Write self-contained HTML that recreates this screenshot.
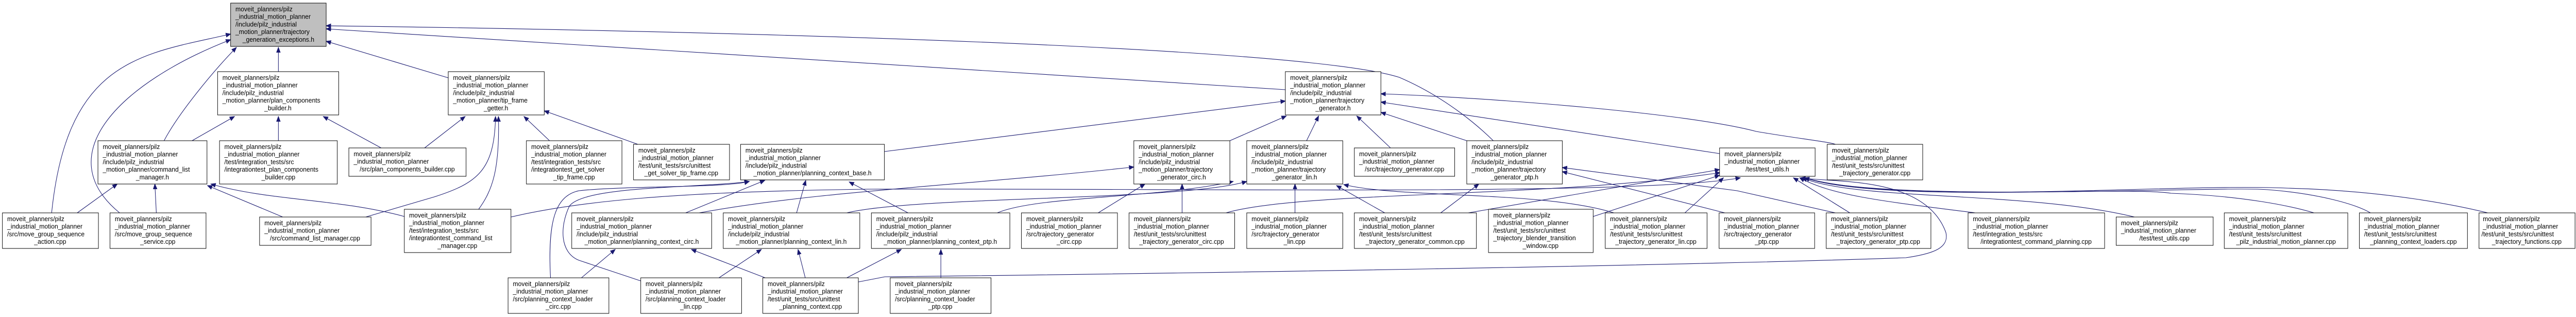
<!DOCTYPE html>
<html><head><meta charset="utf-8"><style>
html,body{margin:0;padding:0;background:#fff;width:100%;height:100%;overflow:hidden;}
svg{display:block;position:absolute;left:0;top:0;width:100vw;height:100vh;overflow:hidden;}
text{font-family:"Liberation Sans",sans-serif;font-size:13px;fill:#000;}
rect{fill:#fff;stroke:#000;stroke-width:1;}
.e{fill:none;stroke:#191970;stroke-width:1.1;marker-start:url(#a);}
</style></head><body>
<svg viewBox="0 0 5339 615" preserveAspectRatio="none" xmlns="http://www.w3.org/2000/svg">
<defs><marker id="a" markerUnits="userSpaceOnUse" markerWidth="12" markerHeight="10" refX="10" refY="4" orient="auto-start-reverse" viewBox="0 0 12 8"><path d="M0,0 L10,4 L0,8 z" fill="#191970" stroke="#191970"/></marker></defs>

<path class="e" d="M478,66 C300,105 140,110 107,413"/>
<path class="e" d="M478,77 C250,160 100,300 248,413"/>
<path class="e" d="M490,92 C440,140 370,220 340,273"/>
<path class="e" d="M577,92 L577,139"/>
<path class="e" d="M676,50 C1500,60 2700,90 2900,150 C3000,190 3070,250 3095,273"/>
<path class="e" d="M676,56 L2664,174"/>
<path class="e" d="M676,80 L929,151"/>
<path class="e" d="M486,226 L398,273"/>
<path class="e" d="M577,226 L577,273"/>
<path class="e" d="M670,226 L790,287"/>
<path class="e" d="M964,226 L880,287"/>
<path class="e" d="M1027,226 C1025,330 990,355 900,382 L758,421"/>
<path class="e" d="M1033,226 C1036,330 1020,370 992,406"/>
<path class="e" d="M1086,226 L1139,273"/>
<path class="e" d="M1128,215 L1322,280"/>
<path class="e" d="M243,357 L160,413"/>
<path class="e" d="M321,357 L324,413"/>
<path class="e" d="M430,360 L586,421"/>
<path class="e" d="M437,357 C560,390 700,385 838,420"/>
<path class="e" d="M2664,196 L1833,294"/>
<path class="e" d="M1585,350 L1421,413"/>
<path class="e" d="M1670,350 L1651,413"/>
<path class="e" d="M1760,353 L1882,413"/>
<path class="e" d="M1553,352 C1500,365 1300,360 1200,370 C1150,380 1135,430 1141,539"/>
<path class="e" d="M1553,352 C1450,365 1210,360 1180,400 C1160,440 1160,490 1200,505 L1328,545"/>
<path class="e" d="M1275,484 L1205,539"/>
<path class="e" d="M1433,484 L1586,539"/>
<path class="e" d="M1578,484 L1490,539"/>
<path class="e" d="M1654,484 L1669,539"/>
<path class="e" d="M1868,484 L1755,539"/>
<path class="e" d="M1950,484 L1950,539"/>
<path class="e" d="M2350,324 C2000,360 1700,370 1449,413"/>
<path class="e" d="M2373,357 L2276,413"/>
<path class="e" d="M2450,357 L2450,413"/>
<path class="e" d="M2556,352 C2400,385 2150,380 2067,413"/>
<path class="e" d="M2584,352 C2450,390 1900,380 1755,413"/>
<path class="e" d="M2684,357 L2684,413"/>
<path class="e" d="M2770,360 L2870,413"/>
<path class="e" d="M2785,358 C2900,385 3200,370 3345,413"/>
<path class="e" d="M2666,225 L2549,273"/>
<path class="e" d="M2733,225 L2708,273"/>
<path class="e" d="M2812,225 L2882,287"/>
<path class="e" d="M2862,218 L3040,273"/>
<path class="e" d="M2862,182 C3100,190 3500,220 3640,255 C3720,268 3790,275 3804,280"/>
<path class="e" d="M2862,198 L3564,298"/>
<path class="e" d="M3065,357 L2986,413"/>
<path class="e" d="M3238,325 L3600,370 L3804,413"/>
<path class="e" d="M3238,333 L3575,413"/>
<path class="e" d="M3564,329 L3043,413"/>
<path class="e" d="M3564,340 L3302,420"/>
<path class="e" d="M3572,345 L3492,413"/>
<path class="e" d="M3565,335 C3200,385 2700,370 2541,413"/>
<path class="e" d="M3607,345 C3400,380 2500,365 1800,367 C1400,372 1200,390 1059,421"/>
<path class="e" d="M3732,345 C3800,355 3990,340 4033,451 C4040,480 4010,492 3950,500 C3500,515 2500,530 1834,537 L1779,547"/>
<path class="e" d="M3717,345 L3834,413"/>
<path class="e" d="M3730,345 C3800,380 3900,390 4094,413"/>
<path class="e" d="M3735,345 C3850,390 4200,370 4424,421"/>
<path class="e" d="M3740,345 C3900,395 4400,360 4500,375 C4650,380 4750,400 4796,413"/>
<path class="e" d="M3740,345 C3900,395 4600,360 4700,368 C4800,375 4880,395 4913,413"/>
<path class="e" d="M3740,345 C3950,400 4500,355 4740,365 C4950,370 5100,400 5156,413"/>

<g transform="translate(478,6)"><rect width="198" height="84" style="fill:#bfbfbf"/><text x="10" y="16">moveit_planners/pilz</text><text x="10" y="30.7">_industrial_motion_planner</text><text x="10" y="45.4">/include/pilz_industrial</text><text x="10" y="60.1">_motion_planner/trajectory</text><text x="99" y="74.8" text-anchor="middle">_generation_exceptions.h</text></g>
<g transform="translate(451,139)"><rect width="251" height="84"/><text x="10" y="16">moveit_planners/pilz</text><text x="10" y="30.7">_industrial_motion_planner</text><text x="10" y="45.4">/include/pilz_industrial</text><text x="10" y="60.1">_motion_planner/plan_components</text><text x="125" y="74.8" text-anchor="middle">_builder.h</text></g>
<g transform="translate(203,273)"><rect width="226" height="84"/><text x="10" y="16">moveit_planners/pilz</text><text x="10" y="30.7">_industrial_motion_planner</text><text x="10" y="45.4">/include/pilz_industrial</text><text x="10" y="60.1">_motion_planner/command_list</text><text x="113" y="74.8" text-anchor="middle">_manager.h</text></g>
<g transform="translate(455,273)"><rect width="244" height="84"/><text x="10" y="16">moveit_planners/pilz</text><text x="10" y="30.7">_industrial_motion_planner</text><text x="10" y="45.4">/test/integration_tests/src</text><text x="10" y="60.1">/integrationtest_plan_components</text><text x="122" y="74.8" text-anchor="middle">_builder.cpp</text></g>
<g transform="translate(723,287)"><rect width="243" height="55"/><text x="10" y="16">moveit_planners/pilz</text><text x="10" y="30.7">_industrial_motion_planner</text><text x="121" y="45.4" text-anchor="middle">/src/plan_components_builder.cpp</text></g>
<g transform="translate(5,413)"><rect width="199" height="69"/><text x="10" y="16">moveit_planners/pilz</text><text x="10" y="30.7">_industrial_motion_planner</text><text x="10" y="45.4">/src/move_group_sequence</text><text x="99" y="60.1" text-anchor="middle">_action.cpp</text></g>
<g transform="translate(228,413)"><rect width="199" height="69"/><text x="10" y="16">moveit_planners/pilz</text><text x="10" y="30.7">_industrial_motion_planner</text><text x="10" y="45.4">/src/move_group_sequence</text><text x="99" y="60.1" text-anchor="middle">_service.cpp</text></g>
<g transform="translate(538,421)"><rect width="231" height="55"/><text x="10" y="16">moveit_planners/pilz</text><text x="10" y="30.7">_industrial_motion_planner</text><text x="115" y="45.4" text-anchor="middle">/src/command_list_manager.cpp</text></g>
<g transform="translate(838,406)"><rect width="221" height="84"/><text x="10" y="16">moveit_planners/pilz</text><text x="10" y="30.7">_industrial_motion_planner</text><text x="10" y="45.4">/test/integration_tests/src</text><text x="10" y="60.1">/integrationtest_command_list</text><text x="110" y="74.8" text-anchor="middle">_manager.cpp</text></g>
<g transform="translate(929,139)"><rect width="199" height="84"/><text x="10" y="16">moveit_planners/pilz</text><text x="10" y="30.7">_industrial_motion_planner</text><text x="10" y="45.4">/include/pilz_industrial</text><text x="10" y="60.1">_motion_planner/tip_frame</text><text x="99" y="74.8" text-anchor="middle">_getter.h</text></g>
<g transform="translate(1091,273)"><rect width="198" height="84"/><text x="10" y="16">moveit_planners/pilz</text><text x="10" y="30.7">_industrial_motion_planner</text><text x="10" y="45.4">/test/integration_tests/src</text><text x="10" y="60.1">/integrationtest_get_solver</text><text x="99" y="74.8" text-anchor="middle">_tip_frame.cpp</text></g>
<g transform="translate(1313,280)"><rect width="199" height="69"/><text x="10" y="16">moveit_planners/pilz</text><text x="10" y="30.7">_industrial_motion_planner</text><text x="10" y="45.4">/test/unit_tests/src/unittest</text><text x="99" y="60.1" text-anchor="middle">_get_solver_tip_frame.cpp</text></g>
<g transform="translate(1535,280)"><rect width="298" height="69"/><text x="10" y="16">moveit_planners/pilz</text><text x="10" y="30.7">_industrial_motion_planner</text><text x="10" y="45.4">/include/pilz_industrial</text><text x="149" y="60.1" text-anchor="middle">_motion_planner/planning_context_base.h</text></g>
<g transform="translate(1185,413)"><rect width="290" height="69"/><text x="10" y="16">moveit_planners/pilz</text><text x="10" y="30.7">_industrial_motion_planner</text><text x="10" y="45.4">/include/pilz_industrial</text><text x="145" y="60.1" text-anchor="middle">_motion_planner/planning_context_circ.h</text></g>
<g transform="translate(1499,413)"><rect width="283" height="69"/><text x="10" y="16">moveit_planners/pilz</text><text x="10" y="30.7">_industrial_motion_planner</text><text x="10" y="45.4">/include/pilz_industrial</text><text x="141" y="60.1" text-anchor="middle">_motion_planner/planning_context_lin.h</text></g>
<g transform="translate(1806,413)"><rect width="287" height="69"/><text x="10" y="16">moveit_planners/pilz</text><text x="10" y="30.7">_industrial_motion_planner</text><text x="10" y="45.4">/include/pilz_industrial</text><text x="143" y="60.1" text-anchor="middle">_motion_planner/planning_context_ptp.h</text></g>
<g transform="translate(1053,539)"><rect width="209" height="69"/><text x="10" y="16">moveit_planners/pilz</text><text x="10" y="30.7">_industrial_motion_planner</text><text x="10" y="45.4">/src/planning_context_loader</text><text x="104" y="60.1" text-anchor="middle">_circ.cpp</text></g>
<g transform="translate(1328,539)"><rect width="209" height="69"/><text x="10" y="16">moveit_planners/pilz</text><text x="10" y="30.7">_industrial_motion_planner</text><text x="10" y="45.4">/src/planning_context_loader</text><text x="104" y="60.1" text-anchor="middle">_lin.cpp</text></g>
<g transform="translate(1581,539)"><rect width="198" height="69"/><text x="10" y="16">moveit_planners/pilz</text><text x="10" y="30.7">_industrial_motion_planner</text><text x="10" y="45.4">/test/unit_tests/src/unittest</text><text x="99" y="60.1" text-anchor="middle">_planning_context.cpp</text></g>
<g transform="translate(1845,539)"><rect width="209" height="69"/><text x="10" y="16">moveit_planners/pilz</text><text x="10" y="30.7">_industrial_motion_planner</text><text x="10" y="45.4">/src/planning_context_loader</text><text x="104" y="60.1" text-anchor="middle">_ptp.cpp</text></g>
<g transform="translate(2117,413)"><rect width="199" height="69"/><text x="10" y="16">moveit_planners/pilz</text><text x="10" y="30.7">_industrial_motion_planner</text><text x="10" y="45.4">/src/trajectory_generator</text><text x="99" y="60.1" text-anchor="middle">_circ.cpp</text></g>
<g transform="translate(2340,413)"><rect width="219" height="69"/><text x="10" y="16">moveit_planners/pilz</text><text x="10" y="30.7">_industrial_motion_planner</text><text x="10" y="45.4">/test/unit_tests/src/unittest</text><text x="109" y="60.1" text-anchor="middle">_trajectory_generator_circ.cpp</text></g>
<g transform="translate(2584,413)"><rect width="199" height="69"/><text x="10" y="16">moveit_planners/pilz</text><text x="10" y="30.7">_industrial_motion_planner</text><text x="10" y="45.4">/src/trajectory_generator</text><text x="99" y="60.1" text-anchor="middle">_lin.cpp</text></g>
<g transform="translate(2350,273)"><rect width="199" height="84"/><text x="10" y="16">moveit_planners/pilz</text><text x="10" y="30.7">_industrial_motion_planner</text><text x="10" y="45.4">/include/pilz_industrial</text><text x="10" y="60.1">_motion_planner/trajectory</text><text x="99" y="74.8" text-anchor="middle">_generator_circ.h</text></g>
<g transform="translate(2584,273)"><rect width="199" height="84"/><text x="10" y="16">moveit_planners/pilz</text><text x="10" y="30.7">_industrial_motion_planner</text><text x="10" y="45.4">/include/pilz_industrial</text><text x="10" y="60.1">_motion_planner/trajectory</text><text x="99" y="74.8" text-anchor="middle">_generator_lin.h</text></g>
<g transform="translate(2664,139)"><rect width="198" height="84"/><text x="10" y="16">moveit_planners/pilz</text><text x="10" y="30.7">_industrial_motion_planner</text><text x="10" y="45.4">/include/pilz_industrial</text><text x="10" y="60.1">_motion_planner/trajectory</text><text x="99" y="74.8" text-anchor="middle">_generator.h</text></g>
<g transform="translate(2807,287)"><rect width="208" height="55"/><text x="10" y="16">moveit_planners/pilz</text><text x="10" y="30.7">_industrial_motion_planner</text><text x="104" y="45.4" text-anchor="middle">/src/trajectory_generator.cpp</text></g>
<g transform="translate(3040,273)"><rect width="198" height="84"/><text x="10" y="16">moveit_planners/pilz</text><text x="10" y="30.7">_industrial_motion_planner</text><text x="10" y="45.4">/include/pilz_industrial</text><text x="10" y="60.1">_motion_planner/trajectory</text><text x="99" y="74.8" text-anchor="middle">_generator_ptp.h</text></g>
<g transform="translate(3564,287)"><rect width="198" height="55"/><text x="10" y="16">moveit_planners/pilz</text><text x="10" y="30.7">_industrial_motion_planner</text><text x="99" y="45.4" text-anchor="middle">/test/test_utils.h</text></g>
<g transform="translate(2807,413)"><rect width="253" height="69"/><text x="10" y="16">moveit_planners/pilz</text><text x="10" y="30.7">_industrial_motion_planner</text><text x="10" y="45.4">/test/unit_tests/src/unittest</text><text x="126" y="60.1" text-anchor="middle">_trajectory_generator_common.cpp</text></g>
<g transform="translate(3085,406)"><rect width="217" height="84"/><text x="10" y="16">moveit_planners/pilz</text><text x="10" y="30.7">_industrial_motion_planner</text><text x="10" y="45.4">/test/unit_tests/src/unittest</text><text x="10" y="60.1">_trajectory_blender_transition</text><text x="108" y="74.8" text-anchor="middle">_window.cpp</text></g>
<g transform="translate(3327,413)"><rect width="211" height="69"/><text x="10" y="16">moveit_planners/pilz</text><text x="10" y="30.7">_industrial_motion_planner</text><text x="10" y="45.4">/test/unit_tests/src/unittest</text><text x="105" y="60.1" text-anchor="middle">_trajectory_generator_lin.cpp</text></g>
<g transform="translate(3563,413)"><rect width="198" height="69"/><text x="10" y="16">moveit_planners/pilz</text><text x="10" y="30.7">_industrial_motion_planner</text><text x="10" y="45.4">/src/trajectory_generator</text><text x="99" y="60.1" text-anchor="middle">_ptp.cpp</text></g>
<g transform="translate(3787,280)"><rect width="198" height="69"/><text x="10" y="16">moveit_planners/pilz</text><text x="10" y="30.7">_industrial_motion_planner</text><text x="10" y="45.4">/test/unit_tests/src/unittest</text><text x="99" y="60.1" text-anchor="middle">_trajectory_generator.cpp</text></g>
<g transform="translate(3785,413)"><rect width="217" height="69"/><text x="10" y="16">moveit_planners/pilz</text><text x="10" y="30.7">_industrial_motion_planner</text><text x="10" y="45.4">/test/unit_tests/src/unittest</text><text x="108" y="60.1" text-anchor="middle">_trajectory_generator_ptp.cpp</text></g>
<g transform="translate(4079,413)"><rect width="283" height="69"/><text x="10" y="16">moveit_planners/pilz</text><text x="10" y="30.7">_industrial_motion_planner</text><text x="10" y="45.4">/test/integration_tests/src</text><text x="141" y="60.1" text-anchor="middle">/integrationtest_command_planning.cpp</text></g>
<g transform="translate(4386,421)"><rect width="201" height="55"/><text x="10" y="16">moveit_planners/pilz</text><text x="10" y="30.7">_industrial_motion_planner</text><text x="100" y="45.4" text-anchor="middle">/test/test_utils.cpp</text></g>
<g transform="translate(4610,413)"><rect width="256" height="69"/><text x="10" y="16">moveit_planners/pilz</text><text x="10" y="30.7">_industrial_motion_planner</text><text x="10" y="45.4">/test/unit_tests/src/unittest</text><text x="128" y="60.1" text-anchor="middle">_pilz_industrial_motion_planner.cpp</text></g>
<g transform="translate(4890,413)"><rect width="224" height="69"/><text x="10" y="16">moveit_planners/pilz</text><text x="10" y="30.7">_industrial_motion_planner</text><text x="10" y="45.4">/test/unit_tests/src/unittest</text><text x="112" y="60.1" text-anchor="middle">_planning_context_loaders.cpp</text></g>
<g transform="translate(5138,413)"><rect width="199" height="69"/><text x="8" y="16">moveit_planners/pilz</text><text x="8" y="30.7">_industrial_motion_planner</text><text x="5" y="45.4">/test/unit_tests/src/unittest</text><text x="99" y="60.1" text-anchor="middle">_trajectory_functions.cpp</text></g>
</svg>
</body></html>
